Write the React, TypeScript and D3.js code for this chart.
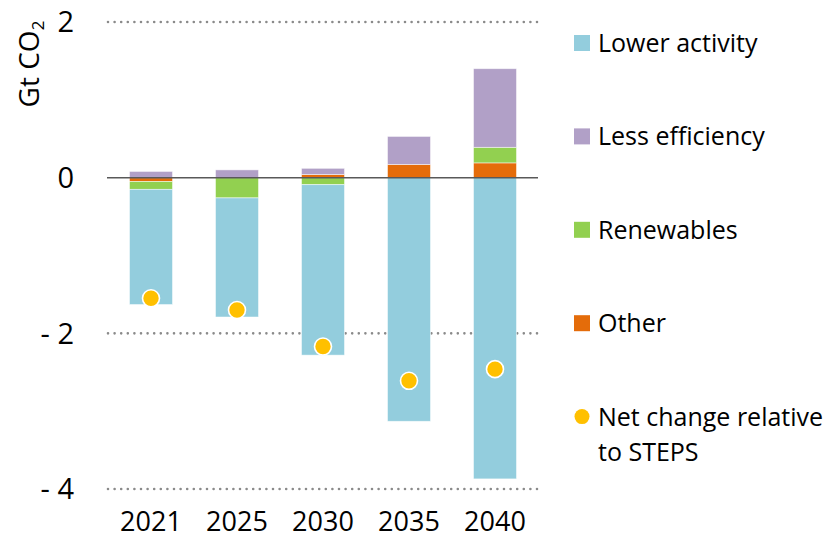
import React from "react";
import * as d3 from "d3";

const years = ["2021", "2025", "2030", "2035", "2040"];
const lowerActivity = [-1.48, -1.53, -2.19, -3.13, -3.87];
const lessEfficiency = [0.08, 0.1, 0.08, 0.36, 1.01];
const renewables = [-0.1, -0.26, -0.09, 0, 0.2];
const other = [-0.05, 0, 0.04, 0.17, 0.19];
const netChange = [-1.55, -1.7, -2.17, -2.61, -2.46];
const yTicks = [2, 0, -2, -4];
const yTickLabels = ["2", "0", "- 2", "- 4"];

const seriesKeys = ["other", "renewables", "efficiency", "activity"];
const colors: Record<string, string> = {
  activity: "#93CDDD",
  efficiency: "#B1A0C7",
  renewables: "#92D050",
  other: "#E46C0A",
};
const legendItems = [
  { key: "activity", label: ["Lower activity"] },
  { key: "efficiency", label: ["Less efficiency"] },
  { key: "renewables", label: ["Renewables"] },
  { key: "other", label: ["Other"] },
  { key: "net", label: ["Net change relative", "to STEPS"] },
];

const font = "'Open Sans', 'Noto Sans', sans-serif";

export default function App() {
  const W = 828, H = 540;
  const x = d3.scaleBand().domain(years).range([108, 538]).paddingInner(0.5).paddingOuter(0.25);
  const y = d3.scaleLinear().domain([-4, 2]).range([489, 22]);

  const rows = years.map((yr, i) => ({
    year: yr,
    activity: lowerActivity[i],
    efficiency: lessEfficiency[i],
    renewables: renewables[i],
    other: other[i],
  }));
  const stacked = d3.stack<any>().keys(seriesKeys).offset(d3.stackOffsetDiverging)(rows);

  return (
    <svg width={W} height={H} style={{ position: "absolute", left: 0, top: 0 }} fontFamily={font}>
      <rect width={W} height={H} fill="#fff" />
      {yTicks.filter((t) => t !== 0).map((t) => (
        <line key={t} x1={108} x2={538} y1={y(t)} y2={y(t)} stroke="#8a8a8a" strokeWidth={2.6}
          strokeDasharray="0 6.6" strokeLinecap="round" />
      ))}
      {stacked.map((s) => (
        <g key={s.key} fill={colors[s.key]}>
          {s.map((d, i) => {
            const y0 = y(d[0]), y1 = y(d[1]);
            const h = Math.abs(y0 - y1);
            if (h < 0.01) return null;
            return (
              <rect key={i} x={x(years[i])!} width={x.bandwidth()} y={Math.min(y0, y1)} height={h}
                stroke="#ffffff" strokeOpacity={0.6} strokeWidth={0.8} />
            );
          })}
        </g>
      ))}
      <line x1={107} x2={538} y1={y(0)} y2={y(0)} stroke="#595959" strokeWidth={1.5} />
      {netChange.map((v, i) => (
        <circle key={i} cx={x(years[i])! + x.bandwidth() / 2} cy={y(v)} r={8.5} fill="#FFC000"
          stroke="#fff" strokeWidth={1.6} />
      ))}
      {yTicks.map((t, i) => (
        <text key={t} x={74} y={y(t)} dy="0.36em" textAnchor="end" fontSize={29} fill="#000">
          {yTickLabels[i]}
        </text>
      ))}
      <text transform={`translate(39,64) rotate(-90)`} textAnchor="middle" fontSize={28} fill="#000">
        Gt CO<tspan fontSize={17} dy={5}>2</tspan>
      </text>
      {years.map((yr) => (
        <text key={yr} x={x(yr)! + x.bandwidth() / 2} y={531} textAnchor="middle" fontSize={27} fill="#000">
          {yr}
        </text>
      ))}
      {legendItems.map((it, i) => {
        const cy = 43 + i * 93.4;
        return (
          <g key={it.key}>
            {it.key === "net" ? (
              <circle cx={582} cy={cy} r={7.5} fill="#FFC000" />
            ) : (
              <rect x={574} y={cy - 8} width={16} height={16} fill={colors[it.key]} />
            )}
            {it.label.map((l, j) => (
              <text key={j} x={598} y={cy + j * 35} dy="0.36em" fontSize={25} fill="#000">
                {l}
              </text>
            ))}
          </g>
        );
      })}
    </svg>
  );
}
